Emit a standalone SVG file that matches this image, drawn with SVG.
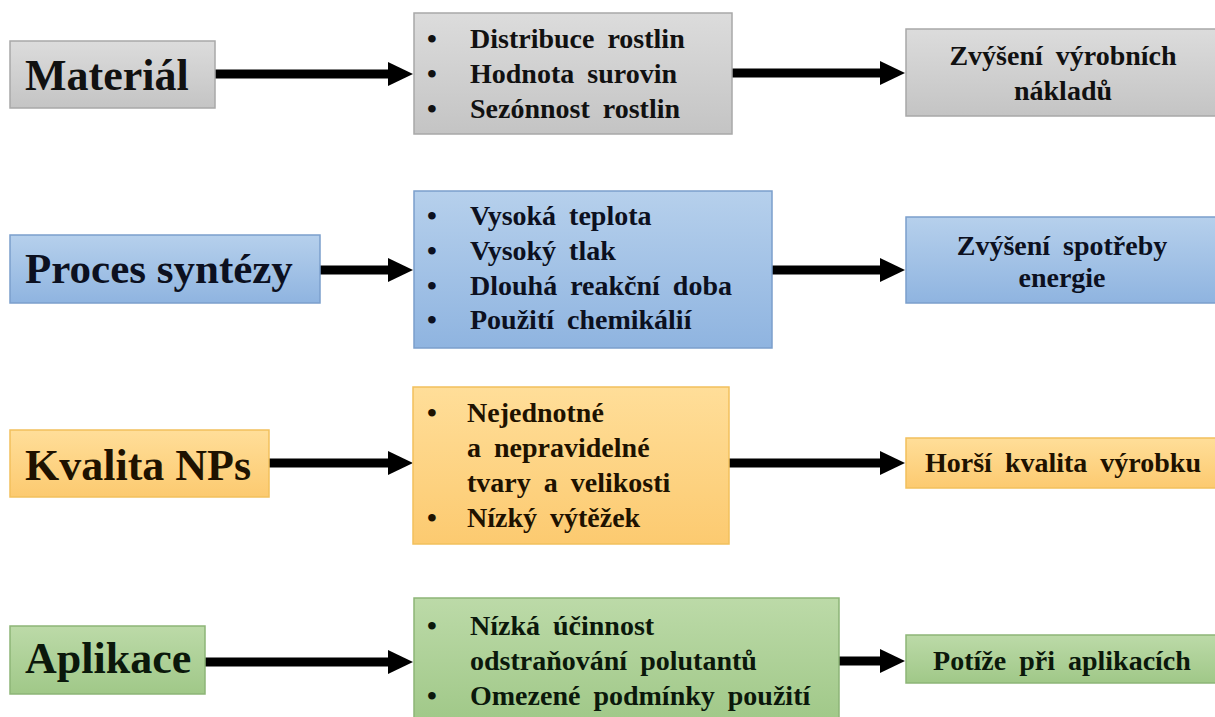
<svg xmlns="http://www.w3.org/2000/svg" width="1215" height="717" viewBox="0 0 1215 717">
<defs>
<linearGradient id="gGray" x1="0" y1="0" x2="0" y2="1"><stop offset="0" stop-color="#dcdcdc"/><stop offset="1" stop-color="#c4c4c4"/></linearGradient>
<linearGradient id="gBlue" x1="0" y1="0" x2="0" y2="1"><stop offset="0" stop-color="#b6d0ec"/><stop offset="1" stop-color="#8fb4e0"/></linearGradient>
<linearGradient id="gOrange" x1="0" y1="0" x2="0" y2="1"><stop offset="0" stop-color="#ffde99"/><stop offset="1" stop-color="#fcca70"/></linearGradient>
<linearGradient id="gGreen" x1="0" y1="0" x2="0" y2="1"><stop offset="0" stop-color="#bcdaa8"/><stop offset="1" stop-color="#a0c888"/></linearGradient>
<marker id="ah" markerUnits="userSpaceOnUse" markerWidth="26" markerHeight="26" refX="4" refY="12" orient="auto"><path d="M0,0 L25,12 L0,24 Z" fill="#000"/></marker>
</defs>

<g id="connectors" stroke="#000" stroke-width="9">
<line x1="215" y1="74" x2="392" y2="74" marker-end="url(#ah)"/>
<line x1="732" y1="73" x2="884" y2="73" marker-end="url(#ah)"/>
<line x1="320" y1="270" x2="392" y2="270" marker-end="url(#ah)"/>
<line x1="772" y1="270" x2="884" y2="270" marker-end="url(#ah)"/>
<line x1="269" y1="463" x2="392" y2="463" marker-end="url(#ah)"/>
<line x1="729" y1="463" x2="884" y2="463" marker-end="url(#ah)"/>
<line x1="205" y1="662" x2="392" y2="662" marker-end="url(#ah)"/>
<line x1="839" y1="661" x2="884" y2="661" marker-end="url(#ah)"/>
</g>

<g id="material">
<rect x="10" y="41" width="205" height="67" fill="url(#gGray)" stroke="#a8a8a8" stroke-width="1.5"/>
<text style="font-family:'Liberation Serif',Tinos,serif;font-weight:bold;font-size:44px;fill:#111" x="25" y="90">Materiál</text>
</g>
<g id="material-factors">
<rect x="414" y="13" width="318" height="121" fill="url(#gGray)" stroke="#a8a8a8" stroke-width="1.5"/>
<text style="font-family:'Liberation Serif',Tinos,serif;font-weight:bold;font-size:28px;fill:#111" x="427" y="48">•</text><text style="font-family:'Liberation Serif',Tinos,serif;font-weight:bold;font-size:28px;word-spacing:6px;fill:#111" x="470" y="48">Distribuce rostlin</text>
<text style="font-family:'Liberation Serif',Tinos,serif;font-weight:bold;font-size:28px;fill:#111" x="427" y="83">•</text><text style="font-family:'Liberation Serif',Tinos,serif;font-weight:bold;font-size:28px;word-spacing:6px;fill:#111" x="470" y="83">Hodnota surovin</text>
<text style="font-family:'Liberation Serif',Tinos,serif;font-weight:bold;font-size:28px;fill:#111" x="427" y="118">•</text><text style="font-family:'Liberation Serif',Tinos,serif;font-weight:bold;font-size:28px;word-spacing:6px;fill:#111" x="470" y="118">Sezónnost rostlin</text>
</g>
<g id="material-result">
<rect x="906" y="29" width="312" height="87" fill="url(#gGray)" stroke="#a8a8a8" stroke-width="1.5"/>
<text style="font-family:'Liberation Serif',Tinos,serif;font-weight:bold;font-size:28px;word-spacing:6px;fill:#111;text-anchor:middle" x="1063" y="65">Zvýšení výrobních</text>
<text style="font-family:'Liberation Serif',Tinos,serif;font-weight:bold;font-size:28px;fill:#111;text-anchor:middle" x="1063" y="100">nákladů</text>
</g>

<g id="synteza">
<rect x="10" y="235" width="310" height="68" fill="url(#gBlue)" stroke="#7b9fcc" stroke-width="1.5"/>
<text style="font-family:'Liberation Serif',Tinos,serif;font-weight:bold;font-size:43px;fill:#0c1020" x="25" y="283">Proces syntézy</text>
</g>
<g id="synteza-factors">
<rect x="414" y="191" width="358" height="157" fill="url(#gBlue)" stroke="#7b9fcc" stroke-width="1.5"/>
<text style="font-family:'Liberation Serif',Tinos,serif;font-weight:bold;font-size:28px;fill:#0c1020" x="427" y="225">•</text><text style="font-family:'Liberation Serif',Tinos,serif;font-weight:bold;font-size:28px;word-spacing:6px;fill:#0c1020" x="470" y="225">Vysoká teplota</text>
<text style="font-family:'Liberation Serif',Tinos,serif;font-weight:bold;font-size:28px;fill:#0c1020" x="427" y="260">•</text><text style="font-family:'Liberation Serif',Tinos,serif;font-weight:bold;font-size:28px;word-spacing:6px;fill:#0c1020" x="470" y="260">Vysoký tlak</text>
<text style="font-family:'Liberation Serif',Tinos,serif;font-weight:bold;font-size:28px;fill:#0c1020" x="427" y="295">•</text><text style="font-family:'Liberation Serif',Tinos,serif;font-weight:bold;font-size:28px;word-spacing:6px;fill:#0c1020" x="470" y="295">Dlouhá reakční doba</text>
<text style="font-family:'Liberation Serif',Tinos,serif;font-weight:bold;font-size:28px;fill:#0c1020" x="427" y="329">•</text><text style="font-family:'Liberation Serif',Tinos,serif;font-weight:bold;font-size:28px;word-spacing:6px;fill:#0c1020" x="470" y="329">Použití chemikálií</text>
</g>
<g id="synteza-result">
<rect x="906" y="217" width="312" height="86" fill="url(#gBlue)" stroke="#7b9fcc" stroke-width="1.5"/>
<text style="font-family:'Liberation Serif',Tinos,serif;font-weight:bold;font-size:28px;word-spacing:6px;fill:#0c1020;text-anchor:middle" x="1062" y="255">Zvýšení spotřeby</text>
<text style="font-family:'Liberation Serif',Tinos,serif;font-weight:bold;font-size:28px;fill:#0c1020;text-anchor:middle" x="1062" y="287">energie</text>
</g>

<g id="kvalita">
<rect x="10" y="430" width="259" height="67" fill="url(#gOrange)" stroke="#f2c05c" stroke-width="1.5"/>
<text style="font-family:'Liberation Serif',Tinos,serif;font-weight:bold;font-size:44px;fill:#1e1200" x="25" y="480">Kvalita NPs</text>
</g>
<g id="kvalita-factors">
<rect x="413" y="387" width="316" height="157" fill="url(#gOrange)" stroke="#f2c05c" stroke-width="1.5"/>
<text style="font-family:'Liberation Serif',Tinos,serif;font-weight:bold;font-size:28px;fill:#1e1200" x="427" y="422">•</text><text style="font-family:'Liberation Serif',Tinos,serif;font-weight:bold;font-size:28px;word-spacing:6px;fill:#1e1200" x="467" y="422">Nejednotné</text>
<text style="font-family:'Liberation Serif',Tinos,serif;font-weight:bold;font-size:28px;word-spacing:6px;fill:#1e1200" x="467" y="457">a nepravidelné</text>
<text style="font-family:'Liberation Serif',Tinos,serif;font-weight:bold;font-size:28px;word-spacing:6px;fill:#1e1200" x="467" y="492">tvary a velikosti</text>
<text style="font-family:'Liberation Serif',Tinos,serif;font-weight:bold;font-size:28px;fill:#1e1200" x="427" y="527">•</text><text style="font-family:'Liberation Serif',Tinos,serif;font-weight:bold;font-size:28px;word-spacing:6px;fill:#1e1200" x="467" y="527">Nízký výtěžek</text>
</g>
<g id="kvalita-result">
<rect x="906" y="438" width="312" height="50" fill="url(#gOrange)" stroke="#f2c05c" stroke-width="1.5"/>
<text style="font-family:'Liberation Serif',Tinos,serif;font-weight:bold;font-size:28px;word-spacing:6px;fill:#1e1200;text-anchor:middle" x="1063" y="472">Horší kvalita výrobku</text>
</g>

<g id="aplikace">
<rect x="10" y="626" width="195" height="68" fill="url(#gGreen)" stroke="#8db577" stroke-width="1.5"/>
<text style="font-family:'Liberation Serif',Tinos,serif;font-weight:bold;font-size:44px;fill:#0b180b" x="25" y="673">Aplikace</text>
</g>
<g id="aplikace-factors">
<rect x="414" y="598" width="425" height="125" fill="url(#gGreen)" stroke="#8db577" stroke-width="1.5"/>
<text style="font-family:'Liberation Serif',Tinos,serif;font-weight:bold;font-size:28px;fill:#0b180b" x="427" y="635">•</text><text style="font-family:'Liberation Serif',Tinos,serif;font-weight:bold;font-size:28px;word-spacing:6px;fill:#0b180b" x="470" y="635">Nízká účinnost</text>
<text style="font-family:'Liberation Serif',Tinos,serif;font-weight:bold;font-size:28px;word-spacing:6px;fill:#0b180b" x="470" y="670">odstraňování polutantů</text>
<text style="font-family:'Liberation Serif',Tinos,serif;font-weight:bold;font-size:28px;fill:#0b180b" x="427" y="705">•</text><text style="font-family:'Liberation Serif',Tinos,serif;font-weight:bold;font-size:28px;word-spacing:6px;fill:#0b180b" x="470" y="705">Omezené podmínky použití</text>
</g>
<g id="aplikace-result">
<rect x="906" y="635" width="312" height="48" fill="url(#gGreen)" stroke="#8db577" stroke-width="1.5"/>
<text style="font-family:'Liberation Serif',Tinos,serif;font-weight:bold;font-size:28px;word-spacing:6px;fill:#0b180b;text-anchor:middle" x="1062" y="670">Potíže při  aplikacích</text>
</g>
</svg>
